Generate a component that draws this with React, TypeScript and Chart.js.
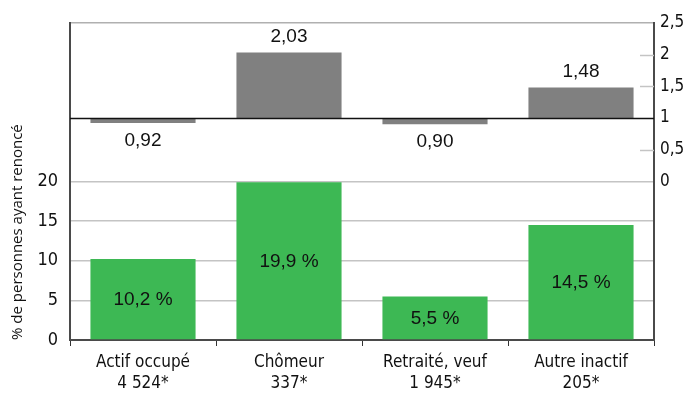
import React, { useEffect, useRef } from 'react';
import { Chart, registerables } from 'chart.js';

Chart.register(...registerables);

const categories: string[][] = [
  ['Actif occupé', '4 524*'],
  ['Chômeur', '337*'],
  ['Retraité, veuf', '1 945*'],
  ['Autre inactif', '205*'],
];
const shareRenounced = [10.2, 19.9, 5.5, 14.5];
const oddsRatios = [0.92, 2.03, 0.9, 1.48];
const oddsBase = 1;
const leftMax = 40;
const leftShownMax = 20;
const rightMin = -2.5;
const rightMax = 2.5;
const rightInnerTicks = [0.5, 1.5, 2];
const axisTitle = '% de personnes ayant renoncé';

const GREEN = '#3db854';
const GREY = '#808080';
const GRID = '#c4c4c4';
const AXIS = '#4a4a4a';
const NARROW = "'Liberation Sans Narrow', 'DejaVu Sans Condensed', 'Arial Narrow', sans-serif";
const VALUE_FONT = "'Liberation Sans', Arial, sans-serif";

const fmt = (v: number, d: number) => v.toFixed(d).replace('.', ',');

const decorPlugin = {
  id: 'decor',
  afterDatasetsDraw(chart: any) {
    const ctx = chart.ctx;
    const area = chart.chartArea;
    const y2 = chart.scales.y2;
    ctx.save();
    // short inner ticks on the right axis
    ctx.strokeStyle = GRID;
    ctx.lineWidth = 1.5;
    rightInnerTicks.forEach((v) => {
      const py = Math.round(y2.getPixelForValue(v)) + 0.5;
      ctx.beginPath();
      ctx.moveTo(area.right - 14, py);
      ctx.lineTo(area.right, py);
      ctx.stroke();
    });
    // reference line at 1
    const p1 = Math.round(y2.getPixelForValue(oddsBase)) + 0.5;
    ctx.strokeStyle = '#111';
    ctx.lineWidth = 1.5;
    ctx.beginPath();
    ctx.moveTo(area.left, p1);
    ctx.lineTo(area.right, p1);
    ctx.stroke();

    ctx.fillStyle = '#111';
    ctx.textAlign = 'center';
    ctx.font = `19px ${VALUE_FONT}`;
    // green values
    const m0 = chart.getDatasetMeta(0);
    m0.data.forEach((bar: any, i: number) => {
      ctx.textBaseline = 'middle';
      ctx.fillText(`${fmt(shareRenounced[i], 1)} %`, bar.x, (bar.y + bar.base) / 2 + 1);
    });
    // grey values
    const m1 = chart.getDatasetMeta(1);
    m1.data.forEach((bar: any, i: number) => {
      const v = oddsRatios[i];
      const top = Math.min(bar.y, bar.base);
      const bottom = Math.max(bar.y, bar.base);
      if (v >= oddsBase) {
        ctx.textBaseline = 'bottom';
        ctx.fillText(fmt(v, 2), bar.x, top - 6);
      } else {
        ctx.textBaseline = 'top';
        ctx.fillText(fmt(v, 2), bar.x, bottom + 8);
      }
    });
    ctx.restore();
  },
};

export default function App() {
  const ref = useRef<HTMLCanvasElement>(null);

  useEffect(() => {
    if (!ref.current) return;
    const chart = new Chart(ref.current, {
      type: 'bar',
      data: {
        labels: categories,
        datasets: [
          {
            label: 'share',
            data: shareRenounced,
            yAxisID: 'y',
            backgroundColor: GREEN,
            grouped: false,
            barPercentage: 0.72,
            categoryPercentage: 1,
            order: 2,
          } as any,
          {
            label: 'odds',
            data: oddsRatios.map((v) => [oddsBase, v]),
            yAxisID: 'y2',
            backgroundColor: GREY,
            grouped: false,
            barPercentage: 0.72,
            categoryPercentage: 1,
            order: 1,
          } as any,
        ],
      },
      options: {
        responsive: false,
        animation: false,
        layout: { padding: { top: 20, left: 0, right: 0, bottom: 0 } },
        plugins: {
          legend: { display: false },
          tooltip: { enabled: false },
          title: { display: false },
        },
        scales: {
          x: {
            offset: true,
            grid: {
              offset: true,
              drawOnChartArea: false,
              drawTicks: true,
              tickLength: 6,
              color: '#333',
              lineWidth: 1,
            },
            border: { display: true, color: AXIS, width: 2 },
            ticks: {
              color: '#111',
              padding: 6,
              font: { family: NARROW, size: 17, lineHeight: 1.25 },
              maxRotation: 0,
              autoSkip: false,
            },
            afterFit: (s: any) => {
              s.height = 76;
            },
          },
          y: {
            position: 'left',
            min: 0,
            max: leftMax,
            ticks: {
              stepSize: 5,
              color: '#111',
              padding: 12,
              font: { family: NARROW, size: 18 },
              callback: (v: any) => (Number(v) <= leftShownMax ? String(v) : ''),
            },
            grid: {
              drawTicks: false,
              lineWidth: 1.5,
              color: (c: any) => {
                const v = c.tick?.value;
                if (v === leftMax) return '#b0b0b0';
                if (v > 0 && v <= leftShownMax) return GRID;
                return 'rgba(0,0,0,0)';
              },
            },
            border: { display: true, color: AXIS, width: 2 },
            title: {
              display: true,
              text: axisTitle,
              color: '#111',
              font: { family: "'Open Sans', 'Noto Sans', sans-serif", size: 15 },
              padding: { top: 9, bottom: 0 },
              align: 'start',
            },
            afterFit: (s: any) => {
              s.width = 70;
            },
          },
          y2: {
            position: 'right',
            min: rightMin,
            max: rightMax,
            ticks: {
              stepSize: 0.5,
              color: '#111',
              padding: 6,
              font: { family: NARROW, size: 17 },
              callback: (v: any) => (Number(v) >= 0 ? fmt(Number(v), Number(v) % 1 === 0 ? 0 : 1) : ''),
            },
            grid: { drawOnChartArea: false, drawTicks: false },
            border: { display: true, color: AXIS, width: 2 },
            afterFit: (s: any) => {
              s.width = 31;
            },
          },
        },
      } as any,
      plugins: [decorPlugin],
    });
    return () => chart.destroy();
  }, []);

  return (
    <div style={{ position: 'absolute', left: 0, top: 0, width: 685, height: 416, background: '#fff' }}>
      <canvas ref={ref} width={685} height={416} />
    </div>
  );
}
